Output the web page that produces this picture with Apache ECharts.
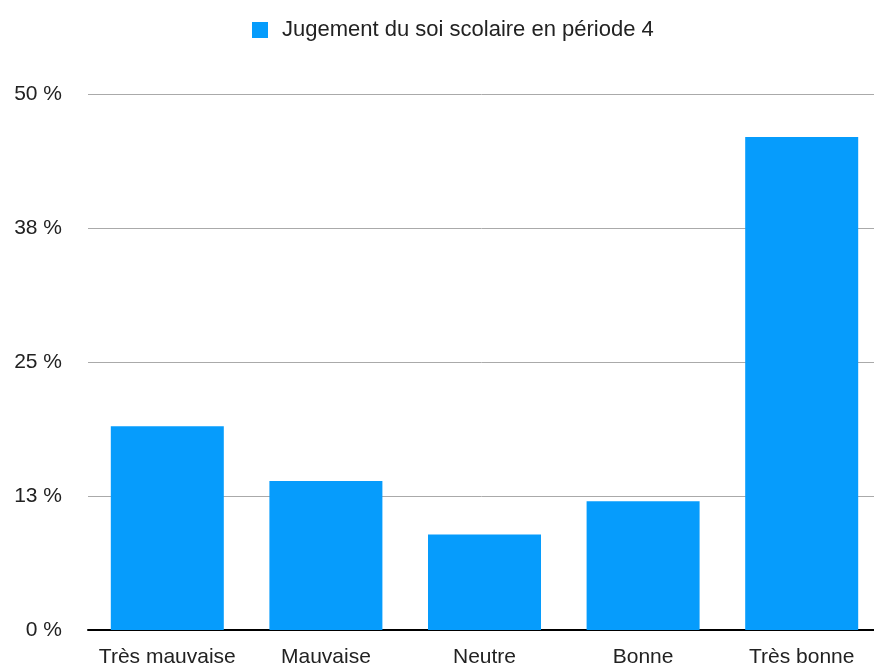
<!DOCTYPE html>
<html>
<head>
<meta charset="utf-8">
<script src="https://cdn.jsdelivr.net/npm/echarts@6/dist/echarts.min.js"></script>
<style>html,body{margin:0;padding:0;background:#fff;}#c{width:874px;height:664px;}</style>
</head>
<body>
<div id="c"></div>
<script>
const categories = ['Très mauvaise', 'Mauvaise', 'Neutre', 'Bonne', 'Très bonne'];
const values = [19.0, 13.9, 8.9, 12.0, 46.0];
const seriesName = 'Jugement du soi scolaire en période 4';
const yTickLabels = ['0 %', '13 %', '25 %', '38 %', '50 %'];
const yStep = 12.5;

const chart = echarts.init(document.getElementById('c'), null, {renderer: 'canvas'});
chart.setOption({
  animation: false,
  textStyle: {fontFamily: 'Liberation Sans, Arial, sans-serif'},
  legend: {
    top: 14,
    left: 247,
    itemWidth: 16,
    itemHeight: 16,
    icon: 'rect',
    textStyle: {fontSize: 22, color: '#222', padding: [0, 0, 0, 9], fontFamily: 'Liberation Sans, Arial, sans-serif'},
    data: [seriesName]
  },
  grid: {left: 88, width: 793, top: 94, bottom: 34, containLabel: false, outerBoundsMode: 'none'},
  xAxis: {
    type: 'category',
    data: categories,
    axisLine: {show: true, lineStyle: {color: '#000', width: 2}},
    axisTick: {show: false},
    axisLabel: {fontSize: 21, color: '#222', margin: 17, interval: 0}
  },
  yAxis: {
    type: 'value',
    min: 0,
    max: 50,
    interval: yStep,
    axisLine: {show: false},
    axisTick: {show: false},
    splitLine: {lineStyle: {color: '#aaa', width: 1}},
    axisLabel: {
      fontSize: 21, color: '#222', margin: 26,
      formatter: v => yTickLabels[Math.round(v / yStep)]
    }
  },
  series: [{
    name: seriesName,
    type: 'bar',
    data: values,
    barWidth: 113,
    itemStyle: {color: '#069cfc'}
  }]
});
</script>
</body>
</html>
